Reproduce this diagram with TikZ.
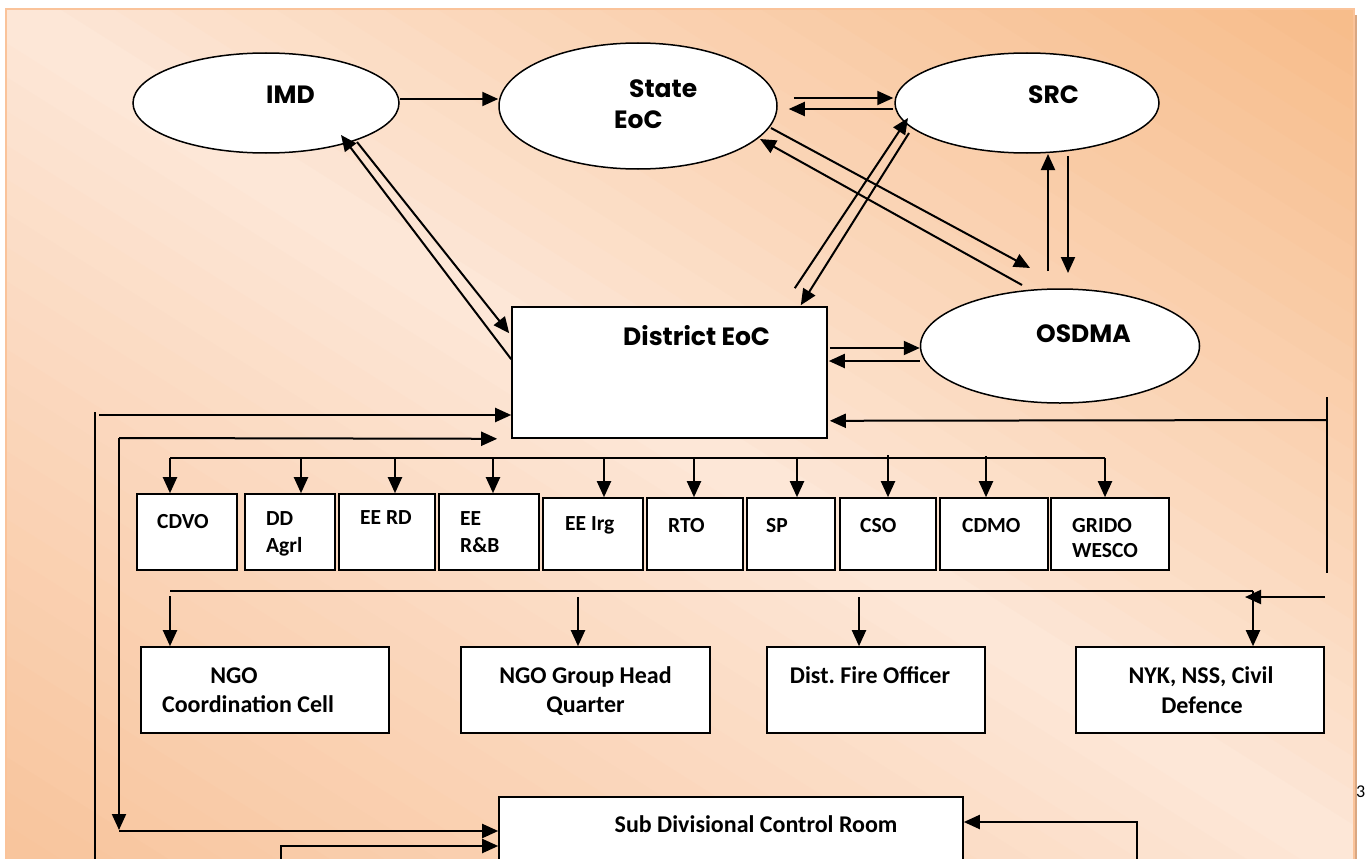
\documentclass[tikz,border=0pt]{standalone}
\usepackage{fontspec}
\setmainfont{Carlito}
\newfontfamily\gothic{Poppins}
\usepackage{tikz}
\usetikzlibrary{arrows.meta,shapes.geometric,positioning,calc}
\definecolor{peachlight}{HTML}{FDE8D9}
\definecolor{peachdark}{HTML}{F7BC8A}
\definecolor{peachwarm}{HTML}{F8C49C}
\definecolor{peachrim}{HTML}{FAC39A}
\definecolor{peachshade}{HTML}{D9A782}
\tikzset{%
  link/.style = {%
    line width = 2pt,
    -{Triangle[length=16pt,width=14pt]}},
  wire/.style = {%
    line width = 1.8pt}}

\begin{document}
\begin{tikzpicture}[x=1pt, y=-1pt,
bubble/.style={ellipse, draw=black, line width=1.5pt, fill=white, inner sep=0pt},
office/.style={rectangle, draw=black, line width=1.6pt, fill=white, inner sep=0pt},
toplabel/.style={anchor=base west, inner sep=0pt, font=\gothic\bfseries\fontsize{25}{30}\selectfont},
smalllabel/.style={anchor=base west, inner sep=0pt, font=\bfseries\fontsize{21.5}{26}\selectfont},
biglabel/.style={anchor=base, inner sep=0pt, font=\bfseries\fontsize{24}{29}\selectfont},
]

\useasboundingbox (0,0) rectangle (1365,859);

% page background, light band from top left to bottom right
\fill[peachshade] (1354,15) rectangle (1357,880);
\begin{scope}
\clip (6,9) rectangle (1354,880);
\fill[peachlight] (6,9) rectangle (1354,880);
\foreach \c in {0,0.04,...,0.97} {
  \pgfmathsetmacro{\p}{100*(\c+0.02)^0.9}
  \fill[peachdark!\p!peachlight] ({6+(\c-0.1)*1348},-76) -- ({6+(\c-0.055)*1348},-76)
    -- ({6+(\c+1.145)*1348},944) -- ({6+(\c+1.1)*1348},944) -- cycle;
}
\foreach \c in {0,0.04,...,0.97} {
  \pgfmathsetmacro{\p}{100*(\c+0.02)^0.9}
  \fill[peachwarm!\p!peachlight] ({6-(\c+0.1)*1348},-76) -- ({6-(\c+0.145)*1348},-76)
    -- ({6-(\c-1.055)*1348},944) -- ({6-(\c-1.1)*1348},944) -- cycle;
}
\end{scope}
\draw[peachrim, line width=1.5pt] (6,9) rectangle (1354,880);
\node[anchor=base west, inner sep=0pt, font=\fontsize{18}{18}\selectfont] (pageno) at (1356,797) {3};

% state level
\node[bubble, minimum width=266pt, minimum height=100pt] (imd)   at (266,103)  {};
\node[bubble, minimum width=278pt, minimum height=126pt] (state) at (638,106)  {};
\node[bubble, minimum width=264pt, minimum height=100pt] (src)   at (1027,103) {};
\node[bubble, minimum width=279pt, minimum height=114pt] (osdma) at (1060,346) {};
\node[office, minimum width=315pt, minimum height=131pt] (dist)  at (669.5,372.5) {};

\node[toplabel] (imd_t)    at (266,103)  {IMD};
\node[toplabel] (state_t)  at (629,97)   {State};
\node[toplabel] (state_t2) at (614,128)  {EoC};
\node[toplabel] (src_t)    at (1028,103) {SRC};
\node[toplabel] (osdma_t)  at (1036,342) {OSDMA};
\node[toplabel] (dist_t)   at (623,345)  {District EoC};

% line departments
\node[office, minimum width=100pt, minimum height=76pt] (cdvo)   at (187,532)  {};
\node[office, minimum width=90pt,  minimum height=76pt] (ddagrl) at (290,532)  {};
\node[office, minimum width=96pt,  minimum height=76pt] (eerd)   at (387,532)  {};
\node[office, minimum width=100pt, minimum height=76pt] (eerb)   at (489,532)  {};
\node[office, minimum width=100pt, minimum height=72pt] (eeirg)  at (593,534)  {};
\node[office, minimum width=96pt,  minimum height=72pt] (rto)    at (695,534)  {};
\node[office, minimum width=88pt,  minimum height=72pt] (sp)     at (791,534)  {};
\node[office, minimum width=96pt,  minimum height=72pt] (cso)    at (888,534)  {};
\node[office, minimum width=108pt, minimum height=72pt] (cdmo)   at (994,534)  {};
\node[office, minimum width=118pt, minimum height=72pt] (grido)  at (1110,534) {};

\node[smalllabel] (cdvo_t)   at (157,528)  {CDVO};
\node[smalllabel] (ddagrl_t) at (266,525)  {DD};
\node[smalllabel] (ddagrl_b) at (266,552)  {Agrl};
\node[smalllabel] (eerd_t)   at (360,524)  {EE RD};
\node[smalllabel] (eerb_t)   at (460,525)  {EE};
\node[smalllabel] (eerb_b)   at (460,552)  {R\&B};
\node[smalllabel] (eeirg_t)  at (565,530)  {EE Irg};
\node[smalllabel] (rto_t)    at (668,532)  {RTO};
\node[smalllabel] (sp_t)     at (766,532)  {SP};
\node[smalllabel] (cso_t)    at (860,532)  {CSO};
\node[smalllabel] (cdmo_t)   at (962,532)  {CDMO};
\node[smalllabel] (grido_t)  at (1072,532) {GRIDO};
\node[smalllabel] (grido_b)  at (1072,557) {WESCO};

% support agencies
\node[office, minimum width=248pt, minimum height=86pt] (ngocc) at (265,690)   {};
\node[office, minimum width=249pt, minimum height=86pt] (ngohq) at (585.5,690) {};
\node[office, minimum width=218pt, minimum height=86pt] (fire)  at (876,690)   {};
\node[office, minimum width=248pt, minimum height=86pt] (nyk)   at (1200,690)  {};
\node[office, minimum width=464pt, minimum height=103pt] (sub)  at (731,848.5) {};

\node[biglabel] (ngocc_t) at (234,683)   {NGO};
\node[biglabel] (ngocc_b) at (248,712)   {Coordination Cell};
\node[biglabel] (ngohq_t) at (585.5,683) {NGO Group Head};
\node[biglabel] (ngohq_b) at (585.5,712) {Quarter};
\node[biglabel] (fire_t)  at (870,683)   {Dist.\ Fire Officer};
\node[biglabel] (nyk_t)   at (1201,683)  {NYK, NSS, Civil};
\node[biglabel] (nyk_b)   at (1202,713)  {Defence};
\node[biglabel] (sub_t)   at (756,832)   {Sub Divisional Control Room};

% links between control rooms
\draw[link] ($(imd.east)+(0,-4)$) -- ($(imd.east -| state.west)+(0,-4)$);
\draw[link] ($(state.east)+(16,-8)$) -- ($(src.west)+(-1,-5)$);
\draw[link] ($(src.west)+(-1,6)$) -- ($(state.east)+(11,3)$);

\draw[link] ($(dist.north west)+(0,53)$) -- ($(imd.center)+(75,32)$);
\draw[link] ($(imd.center)+(91,39)$) -- ($(dist.north west)+(-2,27)$);

\draw[link] ($(state.center)+(133,22)$) -- ($(osdma.center)+(-30,-78)$);
\draw[link] ($(osdma.center)+(-38,-61)$) -- ($(state.center)+(122,33)$);

\draw[link] ($(dist.north east)+(-33,-18)$) -- ($(src.center)+(-119,15)$);
\draw[link] ($(src.center)+(-118,30)$) -- ($(dist.north east)+(-27,-1)$);

\draw[link] ($(osdma.center)+(-12,-75)$) -- ($(src.center)+(21,51)$);
\draw[link] ($(src.center)+(41,53)$) -- ($(osdma.center)+(8,-73)$);

\draw[link] ($(dist.east)+(2,-24.5)$) -- ($(dist.east -| osdma.west)+(0,-24.5)$);
\draw[link] ($(dist.east -| osdma.west)+(0,-11.5)$) -- ($(dist.east)+(1,-11.5)$);

% feedback from the right
\coordinate (rtop) at (1327,397);
\coordinate (rbot) at (1327,573);
\draw[wire] (rtop) -- (rbot);
\draw[link] ($(rtop)+(0,23)$) -- ($(dist.south east)+(2,-18)$);

% orders to line departments
\coordinate (bus1) at (170,458);
\coordinate (bus1e) at (1105,458);
\draw[wire] (bus1) -- (bus1e);
\draw[link] (170,458)  -- (cdvo.north -| 170,0);
\draw[link] (301,458)  -- (ddagrl.north -| 301,0);
\draw[link] (395,458)  -- (eerd.north -| 395,0);
\draw[link] (493,458)  -- (eerb.north -| 493,0);
\draw[link] (604,458)  -- (eeirg.north -| 604,0);
\draw[link] (694,458)  -- (rto.north -| 694,0);
\draw[link] (797,458)  -- (sp.north -| 797,0);
\draw[link] (888,455)  -- (cso.north -| 888,0);
\draw[link] (986,456)  -- (cdmo.north -| 986,0);
\draw[link] (1105,458) -- (grido.north -| 1105,0);

% orders to support agencies
\coordinate (bus2) at (170,591);
\coordinate (bus2e) at (1253,591);
\draw[line width=1.4pt] (bus2) -- (bus2e);
\draw[link] (170,596)  -- (ngocc.north -| 170,0);
\draw[link] (578,597)  -- (ngohq.north -| 578,0);
\draw[link] (859,597)  -- (fire.north -| 859,0);
\draw[link] (bus2e)    -- (nyk.north -| 1253,0);
\draw[link] (1325,597) -- (1245,597);

% sub division links
\draw[wire] (95,412) -- (95,880);
\draw[link] (99,415) -- (dist.west |- 0,415);
\draw[link] (119,438) -- ($(dist.south west)+(-14,0)$);
\draw[link] (119,438) -- (119,830);
\draw[link] (119,831) -- (sub.west |- 0,831);
\draw[link] (281,880) |- (sub.west |- 0,846);
\draw[link] (1137,880) |- (sub.east |- 0,822);

\end{tikzpicture}
\end{document}
